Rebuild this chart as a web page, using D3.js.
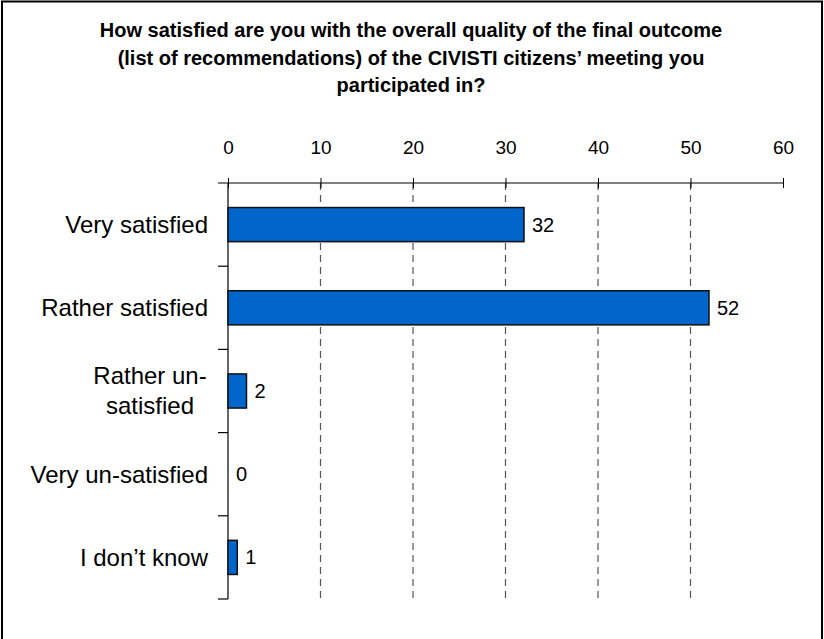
<!DOCTYPE html>
<html>
<head>
<meta charset="utf-8">
<script src="https://cdn.jsdelivr.net/npm/d3@7/dist/d3.min.js"></script>
<style>
  html, body { margin: 0; padding: 0; background: #fff; }
  svg { display: block; }
  text { font-family: Arial, "Liberation Sans", Helvetica, sans-serif; }
</style>
</head>
<body>
<svg id="chart" width="824" height="639"></svg>
<script>
// Survey responses
const categories = ["Very satisfied", "Rather satisfied", "Rather un-satisfied", "Very un-satisfied", "I don\u2019t know"];
const categoryLines = [["Very satisfied"], ["Rather satisfied"], ["Rather un-", "satisfied"], ["Very un-satisfied"], ["I don\u2019t know"]];
const counts = [32, 52, 2, 0, 1];
const tickValues = [0, 10, 20, 30, 40, 50, 60];
const titleLines = [
  "How satisfied are you with the overall quality of the final outcome",
  "(list of recommendations) of the CIVISTI citizens\u2019 meeting you",
  "participated in?"
];

const svg = d3.select("#chart");
const plot = { left: 228, right: 783, top: 183, bottom: 599 };

// Outer frame
svg.append("rect")
  .attr("x", 2).attr("y", 1.5)
  .attr("width", 820).attr("height", 660)
  .attr("fill", "none").attr("stroke", "#000").attr("stroke-width", 2);

// Title
svg.append("text")
  .attr("text-anchor", "middle")
  .attr("font-weight", "bold")
  .attr("font-size", 20)
  .selectAll("tspan").data(titleLines).join("tspan")
  .attr("x", 411).attr("y", (d, i) => 37 + i * 27.5)
  .text(d => d);

const x = d3.scaleLinear().domain([0, 60]).range([plot.left, plot.right]);
const y = d3.scaleBand().domain(categories)
  .range([plot.top, plot.bottom])
  .paddingInner(0.59).paddingOuter(0.295);

// Dashed vertical gridlines
svg.append("g").selectAll("line")
  .data(tickValues.filter(v => v > 0 && v < 60)).join("line")
  .attr("x1", d => x(d)).attr("x2", d => x(d))
  .attr("y1", plot.top).attr("y2", plot.bottom)
  .attr("stroke", "#555").attr("stroke-width", 1.2)
  .attr("stroke-dasharray", "7,5");

// Top value axis
const xAxis = svg.append("g")
  .attr("transform", `translate(0,${plot.top})`)
  .call(d3.axisTop(x).tickValues(tickValues).tickSize(5).tickPadding(24).tickSizeOuter(0));
xAxis.select(".domain").remove();
xAxis.append("line")
  .attr("x1", plot.left - 10).attr("x2", plot.right)
  .attr("stroke", "#000").attr("stroke-width", 1.2);
xAxis.selectAll(".tick line").attr("y2", -5).attr("y1", 5).attr("stroke", "#000");
xAxis.selectAll(".tick text")
  .attr("font-size", 19).attr("fill", "#000")
  .attr("font-family", "Arial, 'Liberation Sans', sans-serif");

// Category axis
const cat = svg.append("g");
cat.append("line")
  .attr("x1", plot.left).attr("x2", plot.left)
  .attr("y1", plot.top).attr("y2", plot.bottom)
  .attr("stroke", "#000").attr("stroke-width", 1.2);
const step = y.step();
const boundaries = d3.range(categories.length).map(i => plot.top + (i + 1) * step);
cat.selectAll("line.tk").data(boundaries).join("line")
  .attr("class", "tk")
  .attr("x1", plot.left - 10).attr("x2", plot.left)
  .attr("y1", d => d).attr("y2", d => d)
  .attr("stroke", "#000").attr("stroke-width", 1.2);

// Category labels
const labels = svg.append("g").attr("font-size", 24).attr("fill", "#000");
categories.forEach((c, i) => {
  const lines = categoryLines[i];
  const cy = y(c) + y.bandwidth() / 2;
  const t = labels.append("text").attr("text-anchor", lines.length > 1 ? "middle" : "end");
  const lh = 30;
  lines.forEach((ln, j) => {
    t.append("tspan")
      .attr("x", lines.length > 1 ? 150 : 208)
      .attr("y", cy + (j - (lines.length - 1) / 2) * lh)
      .attr("dy", "0.35em")
      .text(ln);
  });
});

// Bars
svg.append("g").selectAll("rect")
  .data(categories.map((c, i) => ({ c, v: counts[i] })).filter(d => d.v > 0))
  .join("rect")
  .attr("x", x(0))
  .attr("y", d => y(d.c))
  .attr("width", d => x(d.v) - x(0))
  .attr("height", y.bandwidth())
  .attr("fill", "#0066CC").attr("stroke", "#111").attr("stroke-width", 1.5);

// Value labels
svg.append("g").selectAll("text")
  .data(counts).join("text")
  .attr("x", d => x(d) + 8)
  .attr("y", (d, i) => y(categories[i]) + y.bandwidth() / 2)
  .attr("dy", "0.35em")
  .attr("font-size", 20)
  .text(d => d);
</script>
</body>
</html>
